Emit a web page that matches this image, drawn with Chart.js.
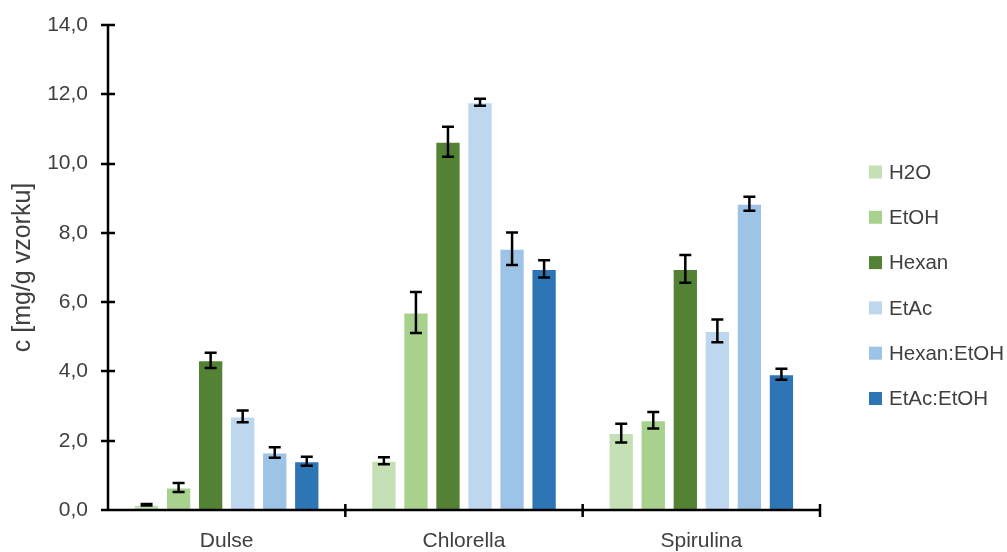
<!DOCTYPE html>
<html>
<head>
<meta charset="utf-8">
<script src="https://cdn.jsdelivr.net/npm/chart.js@4.4.1/dist/chart.umd.min.js"></script>
<style>
  html, body { margin: 0; padding: 0; background: #fff; }
  #wrap { width: 1007px; height: 552px; position: relative; }
</style>
</head>
<body>
<div id="wrap"><canvas id="c"></canvas></div>
<script>
// Samples (categories) and extraction solvents (series)
const categories = ['Dulse', 'Chlorella', 'Spirulina'];
const seriesNames = ['H2O', 'EtOH', 'Hexan', 'EtAc', 'Hexan:EtOH', 'EtAc:EtOH'];
const seriesColors = ['#C5E0B4', '#A9D18E', '#548235', '#BDD7EE', '#9DC3E6', '#2E75B6'];

// Mean concentration per solvent, in category order
const h2o       = [0.15, 1.42, 2.22];
const etoh      = [0.65, 5.70, 2.59];
const hexan     = [4.32, 10.63, 6.96];
const etac      = [2.70, 11.77, 5.17];
const hexanEtoh = [1.66, 7.54, 8.84];
const etacEtoh  = [1.41, 6.96, 3.92];

// Standard deviations, same order
const h2oErr       = [0.02, 0.10, 0.27];
const etohErr      = [0.13, 0.59, 0.24];
const hexanErr     = [0.22, 0.43, 0.40];
const etacErr      = [0.17, 0.10, 0.33];
const hexanEtohErr = [0.15, 0.47, 0.20];
const etacEtohErr  = [0.13, 0.25, 0.16];

const yTicks = [0, 2, 4, 6, 8, 10, 12, 14];

const values = [h2o, etoh, hexan, etac, hexanEtoh, etacEtoh];
const errors = [h2oErr, etohErr, hexanErr, etacErr, hexanEtohErr, etacEtohErr];

const FONT = 'Liberation Sans, Arial, sans-serif';
const TEXT = '#404040';

// Error bars drawn on top of each bar from the bar's own scale
const errorBars = {
  id: 'errorBars',
  afterDatasetsDraw(chart) {
    const ctx = chart.ctx;
    const y = chart.scales.y;
    ctx.save();
    ctx.strokeStyle = '#000';
    ctx.lineWidth = 2.5;
    chart.data.datasets.forEach((ds, di) => {
      const meta = chart.getDatasetMeta(di);
      meta.data.forEach((bar, i) => {
        const v = ds.data[i], e = ds.errors[i];
        const yt = y.getPixelForValue(v + e);
        const yb = y.getPixelForValue(v - e);
        const x = bar.x, cap = 6;
        ctx.beginPath();
        ctx.moveTo(x, yt); ctx.lineTo(x, yb);
        ctx.moveTo(x - cap, yt); ctx.lineTo(x + cap, yt);
        ctx.moveTo(x - cap, yb); ctx.lineTo(x + cap, yb);
        ctx.stroke();
      });
    });
    ctx.restore();
  }
};

// Axis lines with tick marks crossing them
const axes = {
  id: 'axes',
  afterDatasetsDraw(chart) {
    const ctx = chart.ctx;
    const { x, y } = chart.scales;
    const area = chart.chartArea;
    ctx.save();
    ctx.strokeStyle = '#000';
    ctx.lineWidth = 2.5;
    ctx.beginPath();
    ctx.moveTo(area.left, area.top); ctx.lineTo(area.left, area.bottom);
    ctx.moveTo(area.left, area.bottom); ctx.lineTo(area.right, area.bottom);
    yTicks.forEach(t => {
      const py = Math.round(y.getPixelForValue(t));
      ctx.moveTo(area.left - 7, py); ctx.lineTo(area.left + 7, py);
    });
    for (let i = 1; i <= categories.length; i++) {
      const px = (x.getPixelForValue(i - 1) + x.getPixelForValue(i)) / 2;
      ctx.moveTo(px, area.bottom - 6); ctx.lineTo(px, area.bottom + 7);
    }
    ctx.stroke();
    ctx.restore();
  }
};

// Vertical legend to the right of the plot
const sideLegend = {
  id: 'sideLegend',
  afterDraw(chart) {
    const ctx = chart.ctx;
    ctx.save();
    ctx.font = '20.5px ' + FONT;
    ctx.textBaseline = 'middle';
    chart.data.datasets.forEach((ds, i) => {
      const cy = 172 + i * 45.3;
      ctx.fillStyle = ds.backgroundColor;
      ctx.fillRect(869, cy - 6.5, 13, 13);
      ctx.fillStyle = TEXT;
      ctx.fillText(ds.label, 889, cy + 1);
    });
    ctx.restore();
  }
};

new Chart(document.getElementById('c'), {
  type: 'bar',
  data: {
    labels: categories,
    datasets: seriesNames.map((name, i) => ({
      label: name,
      data: values[i],
      errors: errors[i],
      backgroundColor: seriesColors[i],
      borderColor: 'rgba(255,255,255,0.25)',
      borderWidth: 1,
      categoryPercentage: 0.81,
      barPercentage: 0.79
    }))
  },
  options: {
    responsive: true,
    maintainAspectRatio: false,
    animation: false,
    layout: { padding: { top: 25, right: 187, left: 0, bottom: 0 } },
    plugins: {
      legend: { display: false },
      tooltip: { enabled: false }
    },
    scales: {
      x: {
        grid: { display: false },
        border: { display: false },
        ticks: { color: TEXT, font: { family: FONT, size: 21 }, padding: 11 },
        afterFit(s) { s.height = 552 - 510; }
      },
      y: {
        min: 0,
        max: 14,
        afterBuildTicks(s) { s.ticks = yTicks.map(v => ({ value: v })); },
        grid: { display: false },
        border: { display: false },
        ticks: {
          color: TEXT,
          font: { family: FONT, size: 21 },
          padding: 12,
          callback: v => v.toFixed(1).replace('.', ',')
        },
        title: {
          display: true,
          text: 'c [mg/g vzorku]',
          color: TEXT,
          font: { family: FONT, size: 25 },
          padding: { top: 8, bottom: 0 }
        },
        afterFit(s) { s.width = 108; }
      }
    }
  },
  plugins: [errorBars, axes, sideLegend]
});
</script>
</body>
</html>
